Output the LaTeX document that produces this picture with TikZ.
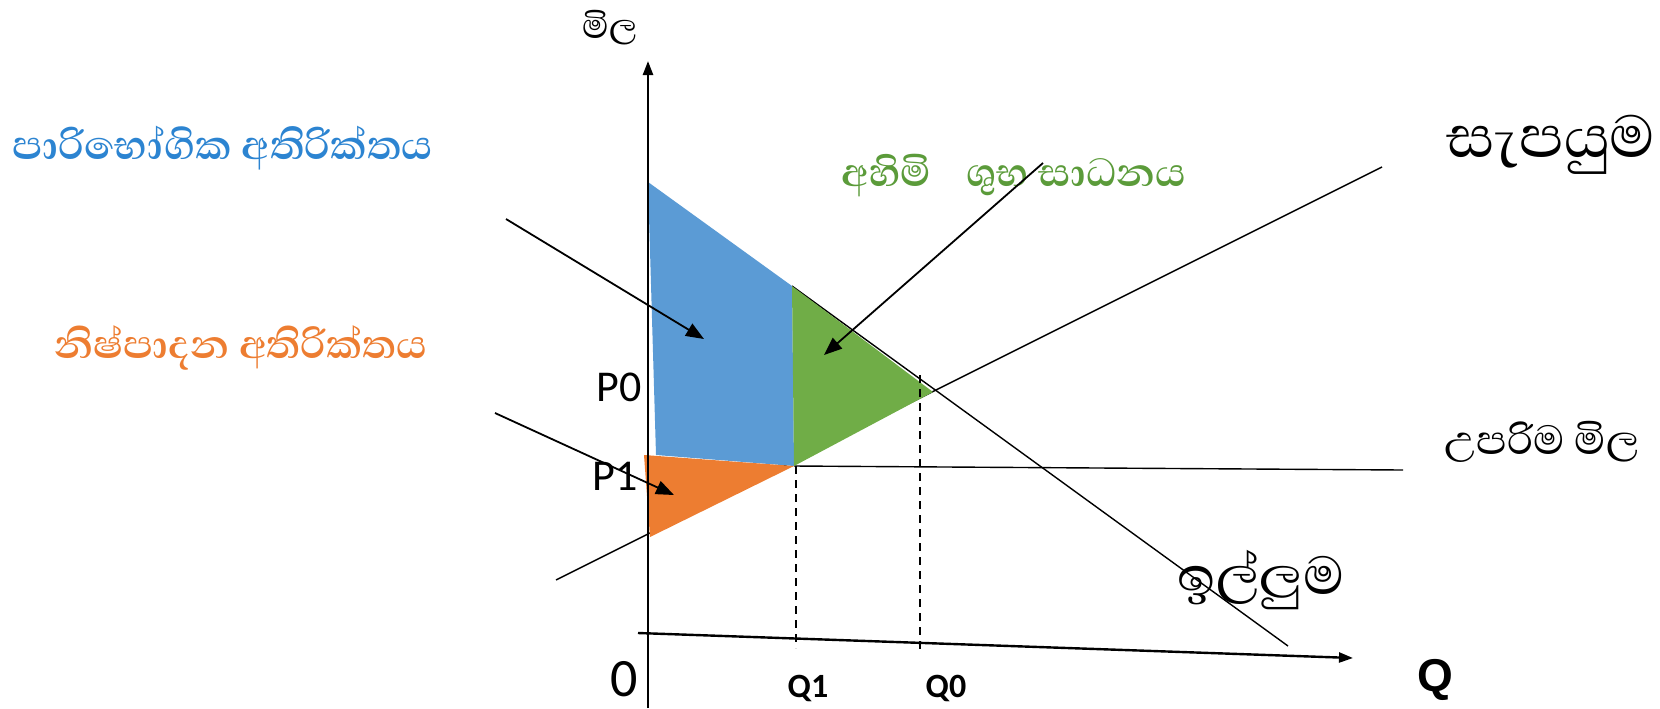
\documentclass[tikz,border=0pt]{standalone}
\usepackage{fontspec}
\usepackage{graphicx}
\setmainfont{Carlito}
\newfontfamily\sinhala[Script=Sinhala]{Abhaya Libre}
\newfontfamily\arialf{Liberation Sans}
\usetikzlibrary{arrows.meta}
\newcommand\fitw[2]{\resizebox{#1}{!}{#2}}
\definecolor{blueFill}{HTML}{5B9BD5}
\definecolor{orangeFill}{HTML}{ED7D31}
\definecolor{greenFill}{HTML}{70AD47}
\definecolor{blueText}{HTML}{2C84D1}
\definecolor{orangeText}{HTML}{ED7D31}
\definecolor{greenText}{HTML}{5B9B3A}
\tikzset{
  thinline/.style={line width=0.7pt, black},
  axisline/.style={line width=1.2pt, black, -{Triangle[length=7pt,width=5pt]}},
  pointer/.style={line width=0.9pt, black, -{Triangle[length=9pt,width=7pt]}},
  guide/.style={line width=0.6pt, black, dash pattern=on 4pt off 3pt},
  lbl/.style={inner sep=0pt, anchor=center},
}
\begin{document}
\begin{tikzpicture}[x=0.5pt,y=-0.5pt]
\useasboundingbox (0,0) rectangle (1660,708);
% key points
\coordinate (Dtop) at (648,182);
\coordinate (A) at (792,286);
\coordinate (E) at (933,392);
\coordinate (B) at (794,466);
\coordinate (C) at (656,455);
\coordinate (Ot) at (644,455);
\coordinate (Ob) at (650,537);
\coordinate (Dend) at (1288,646);
\coordinate (Sstart) at (556,580);
\coordinate (Send) at (1382,167);
\coordinate (Cend) at (1403,470);
\coordinate (Q1t) at (796,466);
\coordinate (Q1b) at (796,648);
\coordinate (Q0t) at (920,375);
\coordinate (Q0b) at (920,651);
\coordinate (Xs) at (638,633);
\coordinate (Xe) at (1353,658);
\coordinate (Ys) at (648,708);
\coordinate (Ye) at (648,61);
% lines
\draw[thinline] (A) -- (Dend);
\draw[thinline] (Sstart) -- (Send);
\draw[thinline] (B) -- (Cend);
% fills
\fill[blueFill] (Dtop) -- (A) -- (B) -- (C) -- cycle;
\fill[greenFill] (A) -- (E) -- (B) -- cycle;
\fill[orangeFill] (Ot) -- (B) -- (Ob) -- cycle;
% guides
\draw[guide] (Q1t) -- (Q1b);
\draw[guide] (Q0t) -- (Q0b);
% axes
\draw[axisline] (Ys) -- (Ye);
\draw[axisline] (Xs) -- (Xe);
% labels
\node[lbl] (mila) at (610,28) {\fitw{27.5pt}{\sinhala මිල}};
\node[lbl, text=blueText] (cs) at (223,148) {\fitw{210pt}{\sinhala\bfseries පාරිභෝගික අතිරික්තය}};
\node[lbl, text=orangeText] (ps) at (241,348) {\fitw{186.5pt}{\sinhala\bfseries නිෂ්පාදන අතිරික්තය}};
\node[lbl, text=greenText] (dwl) at (1014,176) {\fitw{172.5pt}{\sinhala\bfseries අහිමි\hspace{0.7em}ශුභ සාධනය}};
\node[lbl] (sup) at (1551,145) {\fitw{104.5pt}{\sinhala සැපයුම}};
\node[lbl] (ceil) at (1542,442) {\fitw{97.5pt}{\sinhala උපරිම මිල}};
\node[lbl] (dem) at (1261,580) {\fitw{83.5pt}{\sinhala ඉල්ලුම}};
\node[lbl] (P0) at (619,387) {\fontsize{22}{24}\selectfont P0};
\node[lbl] (P1) at (615,476) {\fontsize{22}{24}\selectfont P1};
\node[lbl] (O) at (624,679) {\fontsize{27}{29}\selectfont 0};
\node[lbl] (Q1) at (808,688) {\fontsize{17}{19}\selectfont\bfseries Q1};
\node[lbl] (Q0) at (946,688) {\fontsize{17}{19}\selectfont\bfseries Q0};
\node[lbl] (Q) at (1435,680) {\fontsize{23}{25}\selectfont\arialf\bfseries Q};
% pointer arrows
\coordinate (csFrom) at (506,219);
\coordinate (csTo) at (704,339);
\coordinate (dwlFrom) at (1043,163);
\coordinate (dwlTo) at (824,355);
\coordinate (psFrom) at (495,413);
\coordinate (psTo) at (674,495);
\draw[pointer] (csFrom) -- (csTo);
\draw[pointer] (dwlFrom) -- (dwlTo);
\draw[pointer] (psFrom) -- (psTo);
\end{tikzpicture}
\end{document}
